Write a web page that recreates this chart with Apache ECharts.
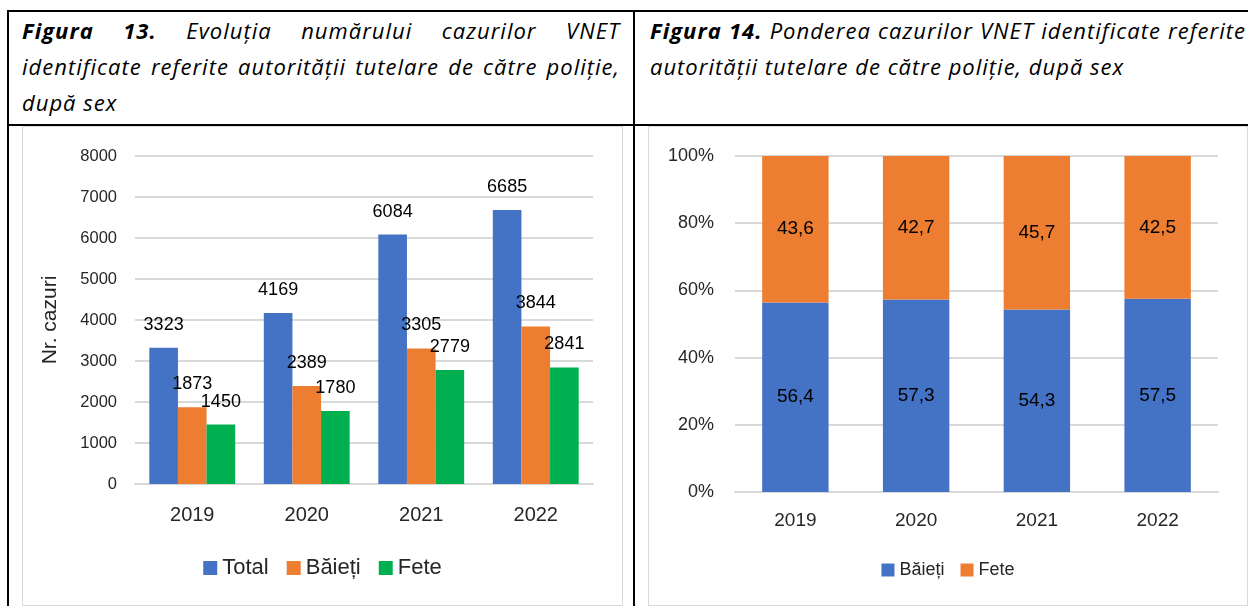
<!DOCTYPE html>
<html lang="ro">
<head>
<meta charset="utf-8" />
<title>Figura 13 / Figura 14</title>
<script src="https://cdn.jsdelivr.net/npm/echarts@6/dist/echarts.min.js"></script>
<style>
  html, body {
    margin: 0;
    padding: 0;
    background: #fff;
    width: 1248px;
    height: 606px;
    overflow: hidden;
    position: relative;
    font-family: "Liberation Sans", Arial, sans-serif;
  }
  .rule {
    position: absolute;
    background: #000;
  }
  .head {
    position: absolute;
    top: 12px;
    font-family: "Open Sans", "Liberation Sans", sans-serif;
    font-style: italic;
    font-size: 22px;
    letter-spacing: 1px;
    line-height: 36px;
    color: #000;
  }
  .head .j {
    text-align: justify;
    text-align-last: justify;
    white-space: nowrap;
  }
  .head b {
    font-weight: bold;
  }
  .frame {
    position: absolute;
    top: 126px;
    height: 480px;
    border: 1px solid #d9d9d9;
    box-sizing: border-box;
    background: #fff;
  }
  .chart {
    width: 100%;
    height: 100%;
  }
</style>
</head>
<body>
  <!-- liniile tabelului -->
  <div class="rule" style="left:7px; top:10px; width:1241px; height:2px;"></div>
  <div class="rule" style="left:7px; top:124px; width:1241px; height:2px;"></div>
  <div class="rule" style="left:7px; top:10px; width:2px; height:596px;"></div>
  <div class="rule" style="left:633px; top:10px; width:2px; height:596px;"></div>

  <div class="head" style="left:22px; width:598px;">
    <div class="j"><b>Figura 13.</b> Evoluția numărului cazurilor VNET</div>
    <div class="j">identificate referite autorității tutelare de către poliție,</div>
    <div>după sex</div>
  </div>
  <div class="head" style="left:650px; width:596px;">
    <div class="j"><b>Figura 14.</b> Ponderea cazurilor VNET identificate referite</div>
    <div>autorității tutelare de către poliție, după sex</div>
  </div>

  <div class="frame" style="left:22px; width:601px;">
    <div class="chart" id="barChart"></div>
  </div>
  <div class="frame" style="left:648px; width:600px;">
    <div class="chart" id="stackChart"></div>
  </div>

<script>
// date
const years = ["2019", "2020", "2021", "2022"];
const totalCases = [3323, 4169, 6084, 6685];
const boysCases = [1873, 2389, 3305, 3844];
const girlsCases = [1450, 1780, 2779, 2841];
const boysShare = [56.4, 57.3, 54.3, 57.5];
const girlsShare = [43.6, 42.7, 45.7, 42.5];

const FONT = "Liberation Sans, Arial, sans-serif";
const BLUE = "#4472C4";
const ORANGE = "#ED7D31";
const GREEN = "#00B050";
const GRID_GRAY = "#d9d9d9";

// Figura 13 - bare grupate
const barChart = echarts.init(document.getElementById("barChart"));
barChart.setOption({
  animation: false,
  textStyle: { fontFamily: FONT },
  grid: { left: 112, right: 29, top: 29, bottom: 121 },
  legend: {
    left: "center",
    top: 425,
    icon: "rect",
    itemWidth: 14,
    itemHeight: 14,
    itemGap: 18,
    textStyle: { fontSize: 22, color: "#262626", fontFamily: FONT },
    data: ["Total", "Băieți", "Fete"],
  },
  xAxis: {
    type: "category",
    data: years,
    axisTick: { show: false },
    axisLine: { lineStyle: { color: GRID_GRAY, width: 2 } },
    axisLabel: { fontSize: 20, color: "#262626", margin: 21 },
  },
  yAxis: {
    type: "value",
    min: 0,
    max: 8000,
    interval: 1000,
    name: "Nr. cazuri",
    nameLocation: "middle",
    nameGap: 74,
    nameTextStyle: { fontSize: 21, color: "#262626" },
    axisLabel: {
      fontSize: 16.5,
      color: "#262626",
      margin: 18,
      formatter: (v) => String(v),
    },
    splitLine: { lineStyle: { color: GRID_GRAY, width: 2 } },
  },
  series: [
    { name: "Total", data: totalCases, color: BLUE },
    { name: "Băieți", data: boysCases, color: ORANGE },
    { name: "Fete", data: girlsCases, color: GREEN },
  ].map((s) => ({
    name: s.name,
    type: "bar",
    data: s.data,
    barGap: "0%",
    barCategoryGap: "25%",
    itemStyle: { color: s.color },
    label: {
      show: true,
      position: "top",
      distance: 14,
      fontSize: 18,
      color: "#000",
    },
  })),
});

// Figura 14 - bare stivuite (procente)
const stackChart = echarts.init(document.getElementById("stackChart"));
const commaFmt = (p) => p.value.toFixed(1).replace(".", ",");
stackChart.setOption({
  animation: false,
  textStyle: { fontFamily: FONT },
  grid: { left: 86, right: 29, top: 29, bottom: 113 },
  legend: {
    left: "center",
    top: 429,
    icon: "rect",
    itemWidth: 13,
    itemHeight: 13,
    itemGap: 16,
    textStyle: { fontSize: 18, color: "#262626", fontFamily: FONT },
    data: ["Băieți", "Fete"],
  },
  xAxis: {
    type: "category",
    data: years,
    axisTick: { show: false },
    axisLine: { lineStyle: { color: GRID_GRAY, width: 2 } },
    axisLabel: { fontSize: 19, color: "#262626", margin: 19 },
  },
  yAxis: {
    type: "value",
    min: 0,
    max: 100,
    interval: 20,
    axisLabel: { fontSize: 18, color: "#262626", margin: 21, formatter: "{value}%" },
    splitLine: { lineStyle: { color: GRID_GRAY, width: 2 } },
  },
  series: [
    { name: "Băieți", data: boysShare, color: BLUE },
    { name: "Fete", data: girlsShare, color: ORANGE },
  ].map((s) => ({
    name: s.name,
    type: "bar",
    stack: "sex",
    data: s.data,
    barCategoryGap: "45%",
    itemStyle: { color: s.color },
    label: {
      show: true,
      position: "inside",
      fontSize: 19,
      color: "#000",
      formatter: commaFmt,
    },
  })),
});
</script>
</body>
</html>
